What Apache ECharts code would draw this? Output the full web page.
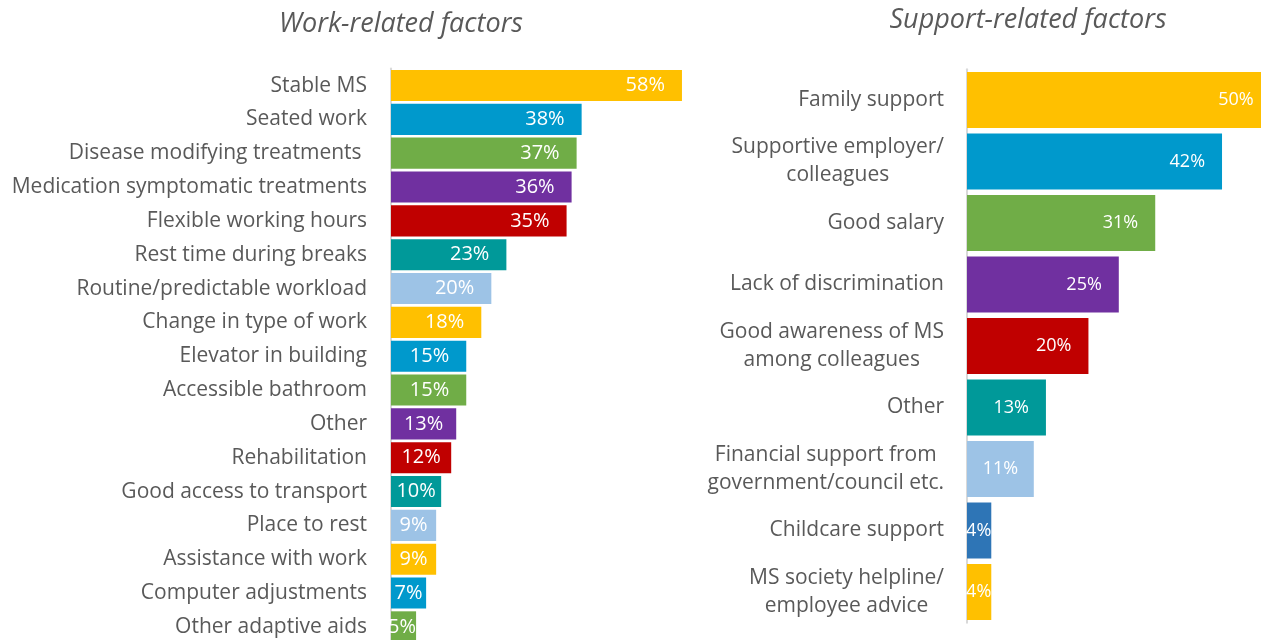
<!DOCTYPE html>
<html>
<head>
<meta charset="utf-8">
<script src="https://cdn.jsdelivr.net/npm/echarts@6/dist/echarts.min.js"></script>
<style>
  html, body { margin: 0; padding: 0; background: #ffffff; }
  #chart { width: 1261px; height: 640px; }
</style>
</head>
<body>
<div id="chart"></div>
<script>
// Work-related factors (percent of respondents)
const workCategories = [
  'Stable MS', 'Seated work', 'Disease modifying treatments ', 'Medication symptomatic treatments',
  'Flexible working hours', 'Rest time during breaks', 'Routine/predictable workload',
  'Change in type of work', 'Elevator in building', 'Accessible bathroom', 'Other',
  'Rehabilitation', 'Good access to transport', 'Place to rest', 'Assistance with work',
  'Computer adjustments', 'Other adaptive aids'
];
const workValues = [58, 38, 37, 36, 35, 23, 20, 18, 15, 15, 13, 12, 10, 9, 9, 7, 5];

// Support-related factors (percent of respondents)
const supportCategories = [
  'Family support', 'Supportive employer/\ncolleagues', 'Good salary', 'Lack of discrimination',
  'Good awareness of MS\namong colleagues', 'Other', 'Financial support from\ngovernment/council etc.',
  'Childcare support', 'MS society helpline/\nemployee advice'
];
const supportValues = [50, 42, 31, 25, 20, 13, 11, 4, 4];

// Palette
const cycleColors = ['#FFC000', '#0099CC', '#70AD47', '#7030A0', '#C00000', '#009999', '#9DC3E6'];
const supportColors = ['#FFC000', '#0099CC', '#70AD47', '#7030A0', '#C00000', '#009999', '#9DC3E6', '#2E75B6', '#FFC000'];

const FONT = '"Open Sans", "Noto Sans", sans-serif';
const TEXT_GREY = '#595959';

// Layout of the two plots (the right plot runs past the page edge)
const LEFT_GRID = { left: 391, top: 68.6, width: 301, height: 575.2, max: 60 };
const RIGHT_GRID = { left: 967, top: 69.25, width: 303.6, height: 553.5, max: 50 };

const measureCtx = document.createElement('canvas').getContext('2d');
function textWidth(str, size) {
  measureCtx.font = size + 'px ' + FONT;
  return measureCtx.measureText(str).width;
}

// Value labels sit near the bar end; on short bars they slide toward the middle
function buildData(values, colors, grid, labelSize) {
  const pxPerUnit = grid.width / grid.max;
  return values.map((v, i) => {
    const barPx = v * pxPerUnit;
    const tw = textWidth(v + '%', labelSize);
    const dist = Math.min(17, Math.max(0, (barPx - tw) / 2));
    return {
      value: v,
      itemStyle: { color: colors[i % colors.length] },
      label: { distance: dist }
    };
  });
}

const chart = echarts.init(document.getElementById('chart'), null, { renderer: 'canvas' });

const titleStyle = { fontFamily: FONT, fontStyle: 'italic', fontWeight: 'normal', fontSize: 27, color: TEXT_GREY };

chart.setOption({
  backgroundColor: '#ffffff',
  animation: false,
  title: [
    { text: 'Work-related factors', left: 396, top: 6, textAlign: 'center', textStyle: titleStyle },
    { text: 'Support-related factors', left: 1023, top: 2, textAlign: 'center', textStyle: titleStyle }
  ],
  grid: [
    {
      left: LEFT_GRID.left, top: LEFT_GRID.top, width: LEFT_GRID.width, height: LEFT_GRID.height,
      containLabel: false, outerBoundsMode: 'none'
    },
    {
      left: RIGHT_GRID.left, top: RIGHT_GRID.top, width: RIGHT_GRID.width, height: RIGHT_GRID.height,
      containLabel: false, outerBoundsMode: 'none'
    }
  ],
  xAxis: [
    { gridIndex: 0, type: 'value', min: 0, max: LEFT_GRID.max, show: false },
    { gridIndex: 1, type: 'value', min: 0, max: RIGHT_GRID.max, show: false }
  ],
  yAxis: [
    {
      gridIndex: 0, type: 'category', data: workCategories, inverse: true,
      axisLine: { show: true, lineStyle: { color: '#D9D9D9', width: 2 } },
      axisTick: { show: false },
      axisLabel: { margin: 24, fontFamily: FONT, fontSize: 21, color: TEXT_GREY, interval: 0 }
    },
    {
      gridIndex: 1, type: 'category', data: supportCategories, inverse: true,
      axisLine: { show: true, lineStyle: { color: '#D9D9D9', width: 2 } },
      axisTick: { show: false },
      axisLabel: {
        margin: 23, interval: 0,
        formatter: (v) => v.split('\n').map((line) => '{c|' + line + '}').join('\n'),
        rich: { c: { align: 'center', fontFamily: FONT, fontSize: 21, color: TEXT_GREY, lineHeight: 28 } }
      }
    }
  ],
  series: [
    {
      type: 'bar', xAxisIndex: 0, yAxisIndex: 0,
      barCategoryGap: '8%',
      data: buildData(workValues, cycleColors, LEFT_GRID, 20),
      label: {
        show: true, position: 'insideRight', formatter: '{c}%',
        fontFamily: FONT, fontSize: 20, color: '#ffffff'
      }
    },
    {
      type: 'bar', xAxisIndex: 1, yAxisIndex: 1,
      barCategoryGap: '9%',
      data: buildData(supportValues, supportColors, RIGHT_GRID, 18),
      label: {
        show: true, position: 'insideRight', formatter: '{c}%',
        fontFamily: FONT, fontSize: 18, color: '#ffffff'
      }
    }
  ]
});
</script>
</body>
</html>
